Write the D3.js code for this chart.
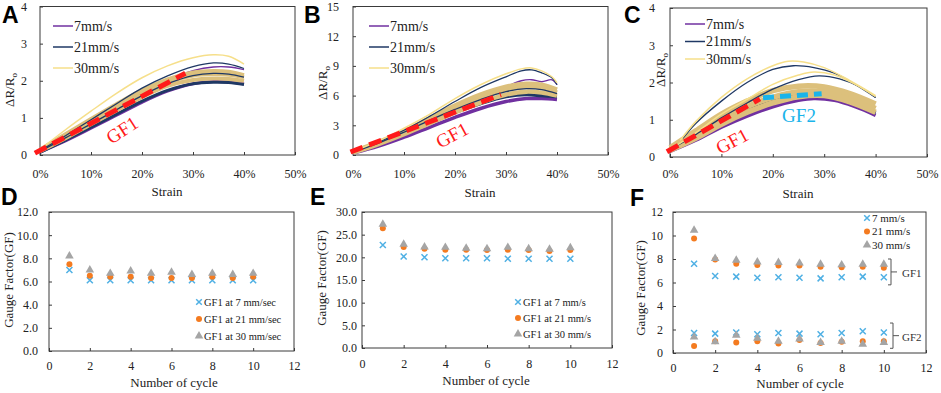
<!doctype html>
<html>
<head>
<meta charset="utf-8">
<script src="https://d3js.org/d3.v7.min.js"></script>
<style>
  body { margin: 0; background: #fff; }
  svg { display: block; font-family: "Liberation Serif", "Times New Roman", serif; }
</style>
</head>
<body>
<svg id="fig" width="941" height="393"></svg>
<script>
// ---------- data ----------
var strainTicks = [0, 10, 20, 30, 40, 50];
var speedLabels = ["7mm/s", "21mm/s", "30mm/s"];
var cycles = [1, 2, 3, 4, 5, 6, 7, 8, 9, 10];
var cycleTicks = [0, 2, 4, 6, 8, 10, 12];

// panel A curves, [strain %, dR/R0]
var A_purple = [
  [[0,0.08],[5,0.38],[10,0.72],[15,1.07],[20,1.42],[25,1.72],[30,1.92],[34,1.98],[37,1.97],[40,1.92]],
  [[0,0.12],[5,0.5],[10,0.9],[15,1.3],[20,1.7],[25,2.03],[30,2.27],[34,2.37],[37,2.37],[40,2.3]]
];
var A_navy = [
  [[0,0.07],[5,0.4],[10,0.75],[15,1.1],[20,1.45],[25,1.74],[30,1.92],[34,1.96],[37,1.95],[40,1.9]],
  [[0,0.1],[5,0.46],[10,0.84],[15,1.22],[20,1.6],[25,1.92],[30,2.14],[34,2.2],[37,2.18],[40,2.1]],
  [[0,0.12],[5,0.52],[10,0.95],[15,1.38],[20,1.8],[25,2.13],[30,2.38],[34,2.48],[37,2.45],[40,2.33]]
];
var A_yellowBand = [
  [[0,0.1],[5,0.45],[10,0.83],[15,1.2],[20,1.56],[25,1.86],[30,2.02],[34,2.06],[37,2.05],[40,2.0]],
  [[0,0.12],[5,0.5],[10,0.9],[15,1.28],[20,1.65],[25,1.96],[30,2.14],[34,2.18],[37,2.16],[40,2.1]],
  [[0,0.14],[5,0.56],[10,0.97],[15,1.37],[20,1.74],[25,2.04],[30,2.22],[34,2.26],[37,2.24],[40,2.15]]
];
var A_yellowThin = [
  [[0,0.15],[5,0.68],[10,1.18],[15,1.66],[20,2.08],[25,2.4],[30,2.62],[34,2.7],[37,2.66],[40,2.45]]
];
var A_gf1 = [[-1,0.05],[28.5,2.2]];

// panel B curves
var B_purple = [
  [[0,0.2],[5,0.9],[10,1.8],[15,2.8],[20,3.8],[25,4.7],[30,5.4],[34,5.7],[37,5.7],[40,5.6]],
  [[0,0.3],[5,1.2],[10,2.3],[15,3.5],[20,4.8],[25,5.9],[30,6.9],[33,7.5],[35,7.6],[37,7.4],[39,7.6],[40,7.1]]
];
var B_navy = [
  [[0,0.25],[5,1.1],[10,2.1],[15,3.2],[20,4.3],[25,5.2],[30,5.9],[34,6.1],[37,6.0],[40,5.9]],
  [[0,0.3],[5,1.2],[10,2.3],[15,3.5],[20,4.6],[25,5.6],[30,6.4],[34,6.7],[37,6.6],[40,6.2]],
  [[0,0.3],[5,1.3],[10,2.5],[15,3.9],[20,5.4],[25,6.8],[30,7.9],[33,8.5],[35,8.6],[37,8.3],[39,7.8],[40,7.1]]
];
var B_yellowBand = [
  [[0,0.25],[5,1.1],[10,2.1],[15,3.2],[20,4.3],[25,5.3],[30,6.1],[34,6.4],[37,6.3],[40,6.0]],
  [[0,0.3],[5,1.2],[10,2.3],[15,3.5],[20,4.7],[25,5.8],[30,6.6],[34,6.9],[37,6.8],[40,6.3]],
  [[0,0.35],[5,1.3],[10,2.4],[15,3.7],[20,5.0],[25,6.1],[30,6.9],[34,7.2],[37,7.1],[40,6.6]]
];
var B_yellowThin = [
  [[0,0.35],[5,1.4],[10,2.7],[15,4.1],[20,5.7],[25,7.1],[30,8.2],[33,8.7],[35,8.8],[37,8.5],[39,7.9],[40,7.3]]
];
var B_gf1 = [[-0.5,0.3],[29,6.1]];

// panel C curves
var C_purple = [
  [[0,0.15],[5,0.45],[10,0.8],[15,1.1],[20,1.35],[25,1.52],[28,1.57],[32,1.52],[36,1.35],[40,1.12]]
];
var C_navy = [
  [[0,0.18],[5,0.55],[10,0.95],[15,1.3],[20,1.55],[25,1.7],[28,1.72],[32,1.65],[36,1.45],[40,1.18]],
  [[0,0.2],[5,0.6],[10,1.05],[15,1.45],[20,1.82],[25,2.08],[29,2.18],[33,2.1],[37,1.88],[40,1.6]],
  [[2.5,0.5],[5,0.9],[10,1.5],[15,2.0],[20,2.35],[24,2.45],[28,2.4],[32,2.25],[36,1.95],[40,1.6]]
];
var C_yellowBand = [
  [[0,0.18],[5,0.5],[10,0.88],[15,1.2],[20,1.45],[25,1.62],[30,1.65],[35,1.48],[40,1.2]],
  [[0,0.2],[5,0.6],[10,1.0],[15,1.35],[20,1.6],[25,1.75],[30,1.75],[35,1.58],[40,1.3]],
  [[0,0.25],[5,0.7],[10,1.15],[15,1.5],[20,1.78],[25,1.9],[30,1.88],[35,1.7],[40,1.42]]
];
var C_yellowThin = [
  [[0,0.2],[5,0.65],[10,1.15],[15,1.55],[20,1.95],[25,2.2],[28,2.28],[32,2.2],[36,1.95],[40,1.62]],
  [[2,0.45],[5,0.95],[10,1.6],[15,2.1],[20,2.45],[23,2.57],[26,2.55],[30,2.4],[35,2.05],[40,1.65]]
];
var C_gf1 = [[-0.6,0.14],[17.5,1.56]];
var C_gf2 = [[18.1,1.59],[29.5,1.7]];

// panel D gauge factors
var D_gf1_7 = [7.0, 6.1, 6.1, 6.1, 6.1, 6.1, 6.1, 6.1, 6.1, 6.1];
var D_gf1_21 = [7.5, 6.5, 6.4, 6.4, 6.3, 6.3, 6.3, 6.4, 6.3, 6.4];
var D_gf1_30 = [8.2, 7.0, 6.7, 6.9, 6.7, 6.8, 6.6, 6.7, 6.6, 6.7];

// panel E
var E_gf1_7 = [22.7, 20.2, 20.0, 19.8, 19.8, 19.8, 19.7, 19.7, 19.7, 19.7];
var E_gf1_21 = [26.4, 22.3, 21.9, 21.7, 21.7, 21.6, 21.7, 21.6, 21.4, 21.6];
var E_gf1_30 = [27.3, 22.9, 22.3, 22.2, 22.0, 21.9, 22.2, 21.9, 21.8, 22.1];

// panel F
var F_gf1_7 = [7.6, 6.55, 6.5, 6.4, 6.45, 6.4, 6.35, 6.45, 6.5, 6.45];
var F_gf1_21 = [9.75, 7.95, 7.6, 7.5, 7.45, 7.45, 7.35, 7.3, 7.35, 7.25];
var F_gf1_30 = [10.45, 8.05, 7.9, 7.75, 7.7, 7.65, 7.55, 7.5, 7.55, 7.55];
var F_gf2_7 = [1.7, 1.65, 1.75, 1.6, 1.7, 1.65, 1.6, 1.7, 1.85, 1.75];
var F_gf2_21 = [0.6, 1.0, 0.9, 1.0, 0.8, 1.1, 0.85, 0.95, 1.0, 1.0];
var F_gf2_30 = [1.35, 0.95, 1.5, 1.25, 1.0, 1.2, 0.9, 1.0, 0.75, 0.9];
var F_gf1Range = [5.8, 8.0];
var F_gf2Range = [0.4, 2.55];

// ---------- drawing ----------
var svg = d3.select("#fig");
var purple = "#7030a0", navy = "#1f3864", yellowThin = "#f6df8a", yellowBand = "#dcc07c";
var blueX = "#4fb0e4", orange = "#f47b20", grey = "#a5a5a5";

function frame(p) {
  svg.append("rect")
    .attr("x", p.x0).attr("y", p.y0)
    .attr("width", p.x1 - p.x0).attr("height", p.y1 - p.y0)
    .attr("fill", "none").attr("stroke", "#3a3a3a").attr("stroke-width", 1);
}

function axes(p, x, y, xt, yt, xfmt, yfmt) {
  var gx = svg.append("g").attr("transform", "translate(0," + p.y1 + ")")
    .call(d3.axisBottom(x).tickValues(xt).tickSize(-3).tickPadding(p.xpad).tickFormat(xfmt));
  var gy = svg.append("g").attr("transform", "translate(" + p.x0 + ",0)")
    .call(d3.axisLeft(y).tickValues(yt).tickSize(-3).tickPadding(p.ypad).tickFormat(yfmt));
  [gx, gy].forEach(function(g) {
    g.attr("font-family", null);
    g.select(".domain").remove();
    g.selectAll("line").attr("stroke", "#3a3a3a");
    g.selectAll("text").attr("font-size", 12).attr("fill", "#222");
  });
}

function letter(txt, x, y) {
  svg.append("text").attr("x", x).attr("y", y).text(txt)
    .attr("font-family", "Liberation Sans, Arial, sans-serif").attr("font-weight", "bold")
    .attr("font-size", 23).attr("fill", "#000");
}

function ytitle(x, y, parts) {
  var t = svg.append("text").attr("transform", "translate(" + x + "," + y + ") rotate(-90)")
    .attr("text-anchor", "middle").attr("dy", "0.35em").attr("font-size", 13).attr("fill", "#222");
  parts.forEach(function(pp) {
    var s = t.append("tspan").text(pp[0]);
    if (pp[1]) s.attr("dy", 3).attr("font-size", 9);
  });
}

function xtitle(x, y, txt) {
  svg.append("text").attr("x", x).attr("y", y).attr("dy", "0.35em")
    .attr("text-anchor", "middle").attr("font-size", 13).attr("fill", "#222").text(txt);
}

function strainPanel(p, data) {
  var x = d3.scaleLinear().domain([0, 50]).range([p.x0, p.x1]);
  var y = d3.scaleLinear().domain([0, p.ymax]).range([p.y1, p.y0]);
  var line = d3.line().x(function(d) { return x(d[0]); }).y(function(d) { return y(d[1]); })
    .curve(d3.curveCatmullRom);
  frame(p);
  axes(p, x, y, strainTicks, p.yticks, function(d) { return d + "%"; }, function(d) { return d; });

  function draw(list, col, w) {
    list.forEach(function(c) {
      svg.append("path").datum(c).attr("d", line).attr("fill", "none")
        .attr("stroke", col).attr("stroke-width", w).attr("stroke-linejoin", "round");
    });
  }
  draw(data.purple.slice(0, 1), purple, p.thick);
  draw(data.purple.slice(1), purple, 1.3);
  draw(data.navy.slice(0, 1), navy, p.thick);
  draw(data.yellowBand, yellowBand, p.band);
  draw(data.navy.slice(1), navy, 1.3);
  draw(data.yellowThin, yellowThin, 1.5);

  var straight = d3.line().x(function(d) { return x(d[0]); }).y(function(d) { return y(d[1]); });
  svg.append("path").datum(data.gf1).attr("d", straight).attr("fill", "none")
    .attr("stroke", "#ff1a1a").attr("stroke-width", 5).attr("stroke-dasharray", "13,7");
  if (data.gf2) {
    svg.append("path").datum(data.gf2).attr("d", straight).attr("fill", "none")
      .attr("stroke", "#1ab4ea").attr("stroke-width", 5).attr("stroke-dasharray", "11,6");
  }

  // legend
  var cols = [purple, navy, yellowThin];
  speedLabels.forEach(function(s, i) {
    var ly = p.legY + i * p.legGap;
    svg.append("line").attr("x1", p.legX).attr("x2", p.legX + 20).attr("y1", ly).attr("y2", ly)
      .attr("stroke", cols[i]).attr("stroke-width", 1.5);
    svg.append("text").attr("x", p.legX + 21).attr("y", ly).attr("dy", "0.35em")
      .attr("font-size", 14).attr("fill", "#222").text(s);
  });
  return { x: x, y: y };
}

function cross(g, cx, cy, r, col) {
  g.append("path").attr("d", "M" + (cx - r) + "," + (cy - r) + "L" + (cx + r) + "," + (cy + r) +
      "M" + (cx - r) + "," + (cy + r) + "L" + (cx + r) + "," + (cy - r))
    .attr("stroke", col).attr("stroke-width", 1.5).attr("fill", "none");
}

function gfPanel(p, series7, series21, series30, fmt) {
  var x = d3.scaleLinear().domain([0, 12]).range([p.x0, p.x1]);
  var y = d3.scaleLinear().domain([0, p.ymax]).range([p.y1, p.y0]);
  frame(p);
  axes(p, x, y, cycleTicks, p.yticks, function(d) { return d; }, fmt);
  var g = svg.append("g");
  series7.forEach(function(s) {
    s.forEach(function(v, i) { cross(g, x(cycles[i]), y(v), 3, blueX); });
  });
  series21.forEach(function(s) {
    g.selectAll(null).data(s).enter().append("circle")
      .attr("cx", function(d, i) { return x(cycles[i]); }).attr("cy", function(d) { return y(d); })
      .attr("r", 3).attr("fill", orange);
  });
  var tri = d3.symbol().type(d3.symbolTriangle).size(32);
  series30.forEach(function(s) {
    g.selectAll(null).data(s).enter().append("path").attr("d", tri)
      .attr("transform", function(d, i) { return "translate(" + x(cycles[i]) + "," + y(d) + ")"; })
      .attr("fill", grey);
  });
  // legend
  p.legText.forEach(function(t, i) {
    var ly = p.legY + i * p.legGap, lx = p.legX;
    if (i === 0) cross(svg, lx, ly, 2.8, blueX);
    if (i === 1) svg.append("circle").attr("cx", lx).attr("cy", ly).attr("r", 3).attr("fill", orange);
    if (i === 2) svg.append("path").attr("d", tri).attr("transform", "translate(" + lx + "," + ly + ")").attr("fill", grey);
    svg.append("text").attr("x", lx + 5).attr("y", ly).attr("dy", "0.35em")
      .attr("font-size", p.legFont).attr("fill", "#222").text(t);
  });
  return { x: x, y: y };
}

// A
strainPanel({ x0: 40, x1: 295, y0: 6.5, y1: 155, ymax: 4, yticks: [0, 1, 2, 3, 4], xpad: 14, ypad: 13,
  thick: 3, band: 4, legX: 53, legY: 26, legGap: 21 },
  { purple: A_purple, navy: A_navy, yellowBand: A_yellowBand, yellowThin: A_yellowThin, gf1: A_gf1 });
// B
strainPanel({ x0: 353, x1: 608, y0: 6.5, y1: 155, ymax: 15, yticks: [0, 3, 6, 9, 12, 15], xpad: 14, ypad: 14,
  thick: 3.5, band: 4.5, legX: 369, legY: 26, legGap: 21 },
  { purple: B_purple, navy: B_navy, yellowBand: B_yellowBand, yellowThin: B_yellowThin, gf1: B_gf1 });
// C
strainPanel({ x0: 670, x1: 927, y0: 8, y1: 157, ymax: 4, yticks: [0, 1, 2, 3, 4], xpad: 12, ypad: 15,
  thick: 3.5, band: 5.5, legX: 685, legY: 24, legGap: 17.5 },
  { purple: C_purple, navy: C_navy, yellowBand: C_yellowBand, yellowThin: C_yellowThin, gf1: C_gf1, gf2: C_gf2 });

var f1 = d3.format(".1f");
// D
gfPanel({ x0: 49, x1: 294, y0: 212, y1: 351, ymax: 12, yticks: [0, 2, 4, 6, 8, 10, 12], xpad: 10, ypad: 11,
  legX: 199, legY: 302, legGap: 17, legFont: 10.5,
  legText: ["GF1 at 7 mm/sec", "GF1 at 21 mm/sec", "GF1 at 30 mm/sec"] },
  [D_gf1_7], [D_gf1_21], [D_gf1_30], f1);
// E
gfPanel({ x0: 362, x1: 612, y0: 212, y1: 348, ymax: 30, yticks: [0, 5, 10, 15, 20, 25, 30], xpad: 11, ypad: 5,
  legX: 518, legY: 302, legGap: 16, legFont: 10.5,
  legText: ["GF1 at 7 mm/s", "GF1 at 21 mm/s", "GF1 at 30 mm/s"] },
  [E_gf1_7], [E_gf1_21], [E_gf1_30], f1);
// F
var sF = gfPanel({ x0: 673, x1: 926, y0: 212, y1: 353, ymax: 12, yticks: [0, 2, 4, 6, 8, 10, 12], xpad: 10, ypad: 10,
  legX: 867, legY: 218, legGap: 13.5, legFont: 11,
  legText: ["7 mm/s", "21 mm/s", "30 mm/s"] },
  [F_gf1_7, F_gf2_7], [F_gf1_21, F_gf2_21], [F_gf1_30, F_gf2_30], function(d) { return d; });

// brackets in F
[[F_gf1Range, 891, "GF1"], [F_gf2Range, 893, "GF2"]].forEach(function(b) {
  var ya = sF.y(b[0][1]), yb = sF.y(b[0][0]), xm = b[1], ym = (ya + yb) / 2;
  svg.append("path").attr("d", "M" + (xm - 3) + "," + ya + "H" + xm + "V" + yb + "H" + (xm - 3) +
      "M" + xm + "," + ym + "H" + (xm + 6))
    .attr("fill", "none").attr("stroke", "#555").attr("stroke-width", 1);
  svg.append("text").attr("x", 902).attr("y", ym + 1).attr("dy", "0.35em")
    .attr("font-size", 11).attr("fill", "#333").text(b[2]);
});

// GF annotations
function gfLabel(x, y, rot, txt, col) {
  svg.append("text").attr("transform", "translate(" + x + "," + y + ") rotate(" + rot + ")")
    .attr("text-anchor", "middle").attr("dy", "0.35em").attr("font-size", 19)
    .attr("fill", col).text(txt);
}
gfLabel(122, 130, -33, "GF1", "#ff1a1a");
gfLabel(452, 135, -28, "GF1", "#ff1a1a");
gfLabel(732, 141, -28, "GF1", "#ff1a1a");
gfLabel(799, 115, 0, "GF2", "#1ab4ea");

// axis titles
ytitle(9, 90, [["\u0394R/R"], ["o", true]]);
ytitle(322, 83, [["\u0394R/R"], ["o", true]]);
ytitle(660, 70, [["\u0394R/R"], ["o", true]]);
xtitle(167, 191, "Strain");
xtitle(480, 192, "Strain");
xtitle(798, 193, "Strain");
ytitle(8, 280, [["Gauge Factor(GF)"]]);
ytitle(321, 278, [["Gauge Factor(GF)"]]);
ytitle(640, 288, [["Gauge Factor(GF)"]]);
xtitle(174, 382, "Number of cycle");
xtitle(486, 380, "Number of cycle");
xtitle(800, 383, "Number of cycle");

letter("A", 2, 23);
letter("B", 304, 23);
letter("C", 624, 23);
letter("D", 1, 205);
letter("E", 310, 205);
letter("F", 630, 206);
</script>
</body>
</html>
